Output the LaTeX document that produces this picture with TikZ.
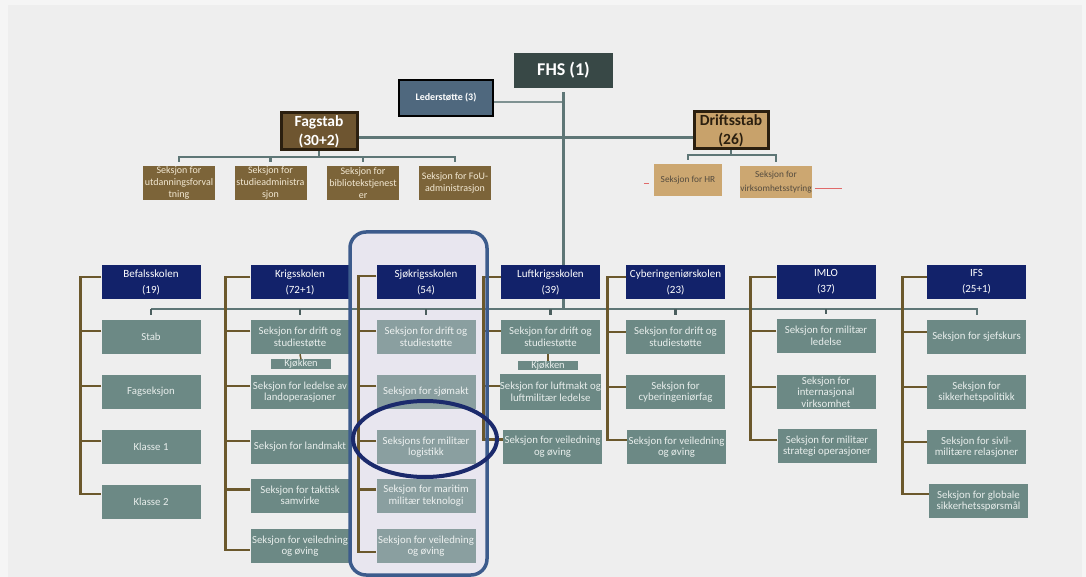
\documentclass[tikz,border=0pt]{standalone}
\usepackage{fontspec}
\setmainfont{Carlito}
\usetikzlibrary{calc}

\definecolor{pagebg}{HTML}{EEEEEE}
\definecolor{pageedge}{HTML}{F5F5F5}
\definecolor{fhsgray}{HTML}{384846}
\definecolor{lederblue}{HTML}{4F687E}
\definecolor{fagbrown}{HTML}{6E5530}
\definecolor{fagsub}{HTML}{7C6439}
\definecolor{fagtext}{HTML}{F2E8D2}
\definecolor{drifttan}{HTML}{C8A26B}
\definecolor{driftsub}{HTML}{CCA771}
\definecolor{darkbrown}{HTML}{2B1F0F}
\definecolor{schoolnavy}{HTML}{12226A}
\definecolor{secgreen}{HTML}{6C8985}
\definecolor{seclight}{HTML}{8A9FA0}
\definecolor{sectext}{HTML}{E8EEEC}
\definecolor{linegray}{HTML}{5E7676}
\definecolor{bracketbrown}{HTML}{6B582C}
\definecolor{hiliteblue}{HTML}{3C5B8C}
\definecolor{hilitefill}{HTML}{E8E6EF}
\definecolor{ringnavy}{HTML}{1B2A6C}
\definecolor{redmark}{HTML}{E06A6A}

\begin{document}
\begin{tikzpicture}[x=1pt, y=-1pt,
    box/.style={inner sep=0pt, align=center},
    school/.style={box, fill=schoolnavy, text=white, minimum width=99pt, minimum height=34pt,
        font=\fontsize{11}{16}\selectfont},
    section/.style={box, fill=secgreen, text=sectext, minimum width=99pt, minimum height=34pt,
        font=\fontsize{10.8}{11.5}\selectfont},
    sjosection/.style={section, fill=seclight, text=sectext!80!white},
    kitchen/.style={box, fill=secgreen, text=sectext, minimum width=60pt, minimum height=8pt,
        font=\fontsize{10.5}{11}\selectfont},
    fagsec/.style={box, fill=fagsub, text=fagtext, minimum width=72pt, minimum height=34pt,
        font=\fontsize{10}{12}\selectfont},
    driftsec/.style={box, fill=driftsub, text=darkbrown!80, minimum width=68pt, minimum height=32pt,
        font=\fontsize{9.3}{14}\selectfont},
    bracket/.style={draw=bracketbrown, line width=2.8pt},
    grayline/.style={draw=linegray, line width=2.6pt},
    tickline/.style={draw=linegray!80!black, line width=2.6pt}]

% page
\fill[pageedge] (0,0) rectangle (1086,577);
\fill[pagebg] (8,5) rectangle (1082,577);
\useasboundingbox (0,0) rectangle (1086,577);
% highlight of Sjokrigsskolen, fill
\fill[hilitefill, rounded corners=16pt] (350,232) rectangle (487,575);

% top level
\node[box, fill=fhsgray, text=white, minimum width=99pt, minimum height=35pt,
    font=\fontsize{18}{20}\selectfont\bfseries] (fhs) at (563.5,70.5) {FHS (1)};
\node[box, fill=lederblue, draw=black, line width=2.5pt, text=white, minimum width=94pt,
    minimum height=36pt, font=\fontsize{10}{11}\selectfont\bfseries] (leder) at (446,98) {Lederstøtte (3)};
\node[box, fill=fagbrown, draw=darkbrown, line width=3pt, text=white, minimum width=76pt,
    minimum height=37pt, font=\fontsize{15.5}{19}\selectfont\bfseries] (fagstab) at (319,131.5) {Fagstab\\(30+2)};
\node[box, fill=drifttan, draw=darkbrown, line width=3pt, text=darkbrown, minimum width=74pt,
    minimum height=37pt, font=\fontsize{15.5}{19}\selectfont\bfseries] (drift) at (731,130.5) {Driftsstab\\(26)};

% staff sections
\node[fagsec] (f1) at (179,183) {Seksjon for\\utdanningsforval\\tning};
\node[fagsec] (f2) at (270.5,183) {Seksjon for\\studieadministra\\sjon};
\node[fagsec] (f3) at (363,183) {Seksjon for\\bibliotekstjenest\\er};
\node[fagsec] (f4) at (455,183) {Seksjon for FoU-\\administrasjon};
\node[driftsec] (hr) at (688,180) {Seksjon for HR};
\node[driftsec] (virk) at (776,182) {Seksjon for\\virksomhetsstyring};

% lines from the top
\coordinate (bar) at (0,309);
\coordinate (fbar) at (0,157);
\coordinate (dbar) at (0,155);
\draw[draw=linegray!80, line width=1.4pt] ([yshift=-4pt]leder.east) -- ([yshift=-4pt]leder.east -| fhs.south);
\draw[grayline] ([yshift=-6pt]fagstab.east) -- ([yshift=-6pt]fagstab.east -| drift.west);
\draw[grayline] ([yshift=-4pt]fhs.south) -- (fhs.south |- 0,265);
\draw[grayline] (fagstab.south) -- (fagstab.south |- fbar);
\draw[grayline] ([yshift=4pt]f1.north) -- (f1.north |- fbar) -- (f4.north |- fbar) -- ([yshift=4pt]f4.north);
\draw[grayline] (f2.north |- fbar) -- ([yshift=4pt]f2.north);
\draw[grayline] (f3.north |- fbar) -- ([yshift=4pt]f3.north);
\draw[grayline] (drift.south) -- (drift.south |- dbar);
\draw[grayline] ([yshift=4pt]hr.north) -- (hr.north |- dbar) -- (virk.north |- dbar) -- ([yshift=4pt]virk.north);

% schools
\node[school] (befal) at (151,282) {Befalsskolen\\(19)};
\node[school] (krigs) at (300,282) {Krigsskolen\\(72+1)};
\node[school] (sjo) at (426,282) {Sjøkrigsskolen\\(54)};
\node[school] (luft) at (550.5,282) {Luftkrigsskolen\\(39)};
\node[school] (cyber) at (675.5,282) {Cyberingeniørskolen\\(23)};
\node[school] (imlo) at (826,282) {IMLO\\(37)};
\node[school] (ifs) at (976.5,282) {IFS\\(25+1)};

% Befalsskolen
\node[section] (b1) at (151,337) {Stab};
\node[section] (b2) at (151,392) {Fagseksjon};
\node[section] (b3) at (151,447) {Klasse 1};
\node[section] (b4) at (151,502) {Klasse 2};
% Krigsskolen
\node[section] (k1) at (300,337) {Seksjon for drift og\\studiestøtte};
\node[kitchen] (kk) at (301,364) {Kjøkken};
\node[section] (k2) at (300,392) {Seksjon for ledelse av\\landoperasjoner};
\node[section] (k3) at (300,447) {Seksjon for landmakt};
\node[section] (k4) at (300,495.5) {Seksjon for taktisk\\samvirke};
\node[section] (k5) at (300,546) {Seksjon for veiledning\\og øving};
% Sjokrigsskolen
\node[sjosection] (s1) at (426,337) {Seksjon for drift og\\studiestøtte};
\node[sjosection] (s2) at (426,392) {Seksjon for sjømakt};
\node[sjosection] (s3) at (426,447) {Seksjons for militær\\logistikk};
\node[sjosection] (s4) at (426,495.5) {Seksjon for maritim\\militær teknologi};
\node[sjosection] (s5) at (426,546) {Seksjon for veiledning\\og øving};
% Luftkrigsskolen
\node[section] (l1) at (550.5,337) {Seksjon for drift og\\studiestøtte};
\node[kitchen] (lk) at (548,365.5) {Kjøkken};
\node[section, minimum height=36pt] (l2) at (550.5,392) {Seksjon for luftmakt og\\luftmilitær ledelse};
\node[section] (l3) at (552.5,446.5) {Seksjon for veiledning\\og øving};
% Cyberingeniorskolen
\node[section] (c1) at (675.5,337) {Seksjon for drift og\\studiestøtte};
\node[section] (c2) at (675.5,392) {Seksjon for\\cyberingeniørfag};
\node[section] (c3) at (676.5,447) {Seksjon for veiledning\\og øving};
% IMLO
\node[section] (m1) at (826,336) {Seksjon for militær\\ledelse};
\node[section] (m2) at (826,392) {Seksjon for\\internasjonal\\virksomhet};
\node[section] (m3) at (827,446) {Seksjon for militær\\strategi operasjoner};
% IFS
\node[section] (i1) at (976.5,337) {Seksjon for sjefskurs};
\node[section] (i2) at (976.5,392) {Seksjon for\\sikkerhetspolitikk};
\node[section] (i3) at (976.5,447) {Seksjon for sivil-\\militære relasjoner};
\node[section] (i4) at (978.5,501) {Seksjon for globale\\sikkerhetsspørsmål};

% bar over the sections
\draw[grayline] (luft.south -| fhs.south) -- (fhs.south |- bar);
\draw[grayline, line width=2pt] (b1.north |- bar) -- (i1.north |- bar) -- ([yshift=5pt]i1.north);
\foreach \n in {b1,k1,s1,l1,c1,m1}
    \draw[tickline] (\n.north |- bar) -- ([yshift=5pt]\n.north);

% school brackets
\draw[bracket] ([yshift=5pt]befal.west) -- ++(-21,0) |- ([yshift=8pt]b4.west);
\foreach \n in {b1,b2,b3} \draw[bracket] ([yshift=6pt]\n.west) -- ++(-21,0);
\draw[bracket] ([yshift=5pt]krigs.west) -- ++(-25,0) |- ([yshift=-4pt]k5.west);
\foreach \n in {k1,k2,k3,k4} \draw[bracket] ([yshift=6pt]\n.west) -- ++(-25,0);
\draw[bracket] ([yshift=6pt]sjo.west) -- ++(-18,0) |- ([yshift=-6pt]s5.west);
\foreach \n in {s1,s2,s3,s4} \draw[bracket] ([yshift=6pt]\n.west) -- ++(-18,0);
\draw[bracket] ([yshift=5pt]luft.west) -- ++(-17,0) |- ([yshift=7pt]l3.west);
\foreach \n in {l1,l2} \draw[bracket] ([yshift=6pt]\n.west) -- ++(-17,0);
\draw[bracket] ([yshift=5pt]cyber.west) -- ++(-18,0) |- ([yshift=7pt]c3.west);
\foreach \n in {c1,c2} \draw[bracket] ([yshift=5pt]\n.west) -- ++(-18,0);
\draw[bracket] ([yshift=5pt]imlo.west) -- ++(-26,0) |- ([yshift=6pt]m3.west);
\foreach \n in {m1,m2} \draw[bracket] ([yshift=5pt]\n.west) -- ++(-26,0);
\draw[bracket] ([yshift=5pt]ifs.west) -- ++(-24,0) |- ([yshift=7pt]i4.west);
\foreach \n in {i1,i2,i3} \draw[bracket] ([yshift=5pt]\n.west) -- ++(-24,0);
\draw[bracket, line width=1.5pt] (k1.south) -- (kk.north);
\draw[bracket, line width=1.5pt] (l1.south -| lk.north) -- (lk.north);

% red marks
\draw[redmark, line width=1pt] ([xshift=-10pt,yshift=-4pt]hr.west) -- ++(5,0);
\draw[redmark, line width=1pt] ([xshift=3pt,yshift=-7pt]virk.east) -- ++(27,0);

% highlight of Sjokrigsskolen, frame and ring
\draw[hiliteblue, line width=3.5pt, rounded corners=16pt] (350,232) rectangle (487,575);
\draw[ringnavy, line width=4pt] (425,439) ellipse [x radius=72pt, y radius=38pt];
\end{tikzpicture}
\end{document}
